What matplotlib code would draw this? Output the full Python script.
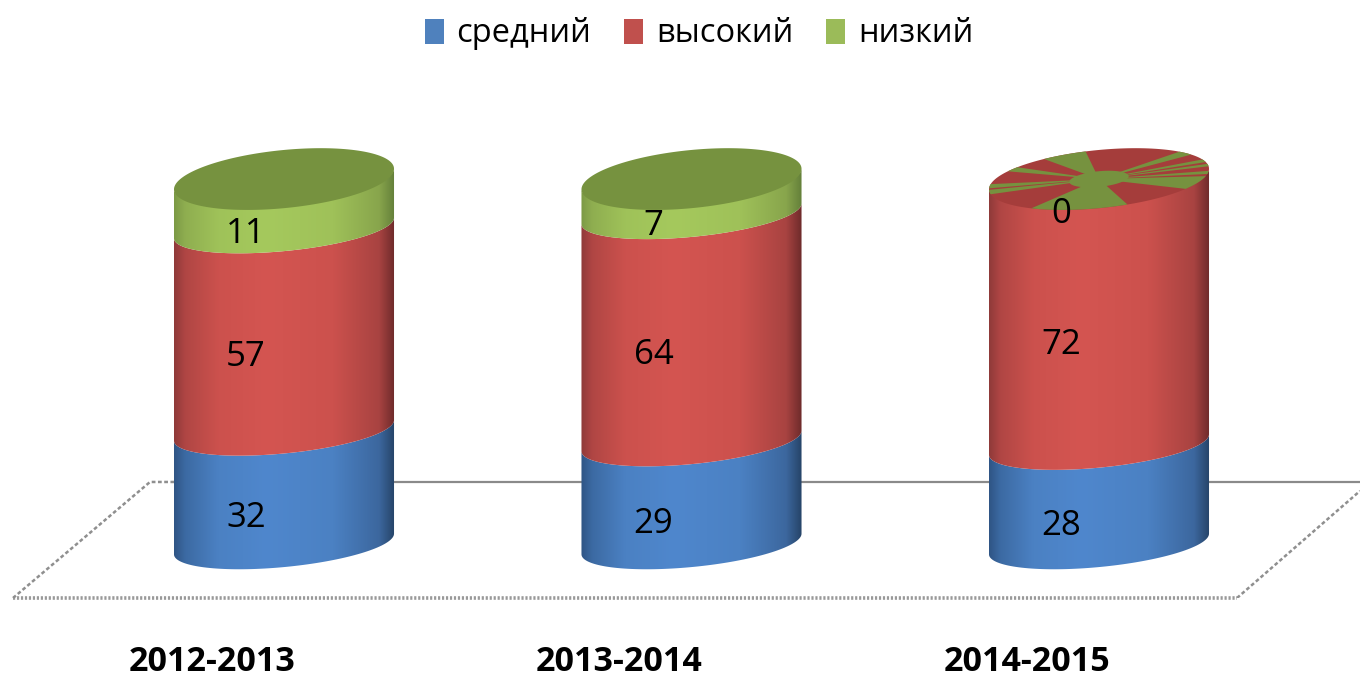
import numpy as np
import matplotlib
matplotlib.use("Agg")
import matplotlib.pyplot as plt
from matplotlib.colors import LinearSegmentedColormap
from matplotlib.patches import Patch, Polygon

plt.rcParams['font.family'] = ['Open Sans', 'DejaVu Sans']

# Data
years = ["2012-2013", "2013-2014", "2014-2015"]
series_names = ["средний", "высокий", "низкий"]
medium = [32, 29, 28]
high = [57, 64, 72]
low = [11, 7, 0]

# Look of the cylinders (sizes in data units)
half_width = 0.27
side_depth = 6.5
top_depth = 8.2
tilt = 2.9
top_lift = 2.8
label_drop = [22.5, 20, 18]  # points below the middle of a segment
legend_colors = ["#4f81bd", "#c0504d", "#9bbb59"]
stops = [0, 0.05, 0.2, 0.42, 0.72, 0.93, 1]
side_cols = [
    ["#2f5585", "#3c6aa3", "#4b81c3", "#4f87cd", "#4b81c3", "#3c679e", "#264468"],
    ["#8f3a39", "#b04644", "#cc514d", "#d45551", "#cc514d", "#a84341", "#6e2b2b"],
    ["#7c9a45", "#8fae50", "#9fc259", "#a5c95d", "#9fc159", "#88a54c", "#64803a"],
]
side_cmaps = [LinearSegmentedColormap.from_list("side", list(zip(stops, c))) for c in side_cols]
top_green = "#76923f"
top_red = "#a53d3b"
# green wedges seen on the flat top of the last cylinder (degrees around the ellipse)
top_green_wedges = [(232, 285), (322, 346), (350, 356), (5, 10), (14, 20), (33, 43),
                    (97, 120), (138, 146), (170, 178), (181, 190)]


def ellipse_xy(c, v, depth, deg, scale=1.0):
    t = np.radians(deg)
    return (c + scale * half_width * np.cos(t),
            v + scale * (depth * np.sin(t) + tilt * np.cos(t)))


def draw_side(ax, c, v0, v1, cmap):
    deg = np.linspace(180, 360, 80)
    x0, y0 = ellipse_xy(c, v0, side_depth, deg)
    x1, y1 = ellipse_xy(c, v1, side_depth, deg[::-1])
    poly = Polygon(np.column_stack([np.r_[x0, x1], np.r_[y0, y1]]),
                   closed=True, fc="none", ec="none", zorder=3)
    ax.add_patch(poly)
    shade = np.linspace(0, 1, 256).reshape(1, -1)
    im = ax.imshow(shade, cmap=cmap, aspect="auto", zorder=3,
                   extent=(c - half_width, c + half_width, v0 - 15, v1 + 15))
    im.set_clip_path(poly)


def draw_top(ax, c, v, color):
    deg = np.linspace(0, 360, 160)
    x, y = ellipse_xy(c, v, top_depth, deg)
    ax.fill(x, y, color=color, lw=0, zorder=4)


fig = plt.figure(figsize=(13.6, 6.8), dpi=100, facecolor="white")
ax = fig.add_axes([0, 82 / 680, 1, 498 / 680])

# Floor of the chart
ax.plot([13 / 1360, 1237 / 1360], [0, 0], transform=ax.transAxes, color="#999999",
        lw=2.6, ls=(0, (0.6, 0.5)), clip_on=False, zorder=1)
ax.plot([13 / 1360, 150 / 1360, 176 / 1360], [0, 0.233, 0.233], transform=ax.transAxes,
        color="#8f8f8f", lw=1.8, ls=(0, (1.5, 1)), zorder=1)
ax.plot([1237 / 1360, 1360 / 1360], [0, 0.215], transform=ax.transAxes,
        color="#8f8f8f", lw=1.8, ls=(0, (1.5, 1)), zorder=1)
ax.plot([176 / 1360, 1], [0.233, 0.233], transform=ax.transAxes,
        color="#8a8a8a", lw=1.6, zorder=1)

# Cylinders
stack = np.array([medium, high, low], dtype=float)
for i in range(len(years)):
    vals = stack[:, i]
    bottoms = np.r_[0, np.cumsum(vals)[:-1]]
    tops = bottoms + vals
    last = np.nonzero(vals)[0][-1]
    tops[last] += top_lift
    for k in range(len(vals)):
        if vals[k] > 0:
            draw_side(ax, i, bottoms[k], tops[k], side_cmaps[k])
        ax.annotate(f"{vals[k]:.0f}", (i - 0.093, bottoms[k] + vals[k] / 2),
                    xytext=(0, -label_drop[k]), textcoords="offset points", ha="center",
                    va="center", fontsize=25, color="black", zorder=6)
    if vals[-1] > 0:
        draw_top(ax, i, tops[last], top_green)
    else:
        draw_top(ax, i, tops[last], top_red)
        for a, b in top_green_wedges:
            x, y = ellipse_xy(i, tops[last], top_depth, np.linspace(a, b, 20))
            ax.fill(np.r_[i, x], np.r_[tops[last], y], color=top_green, lw=0, zorder=5)
        x, y = ellipse_xy(i, tops[last], top_depth, np.linspace(0, 360, 60), scale=0.27)
        ax.fill(x, y, color=top_green, lw=0, zorder=5)

ax.set_xlim(-284 / 407.5, 1076 / 407.5)
ax.set_ylim(-54 / 3.55, 444 / 3.55)
ax.set_xticks([i - 0.177 for i in range(len(years))])
ax.set_xticklabels(years, fontsize=24.5, fontweight="bold", color="black")
ax.tick_params(axis="x", length=0, pad=34)
ax.set_yticks([])
for s in ax.spines.values():
    s.set_visible(False)
ax.patch.set_visible(False)

handles = [Patch(color=c, lw=0) for c in legend_colors]
fig.legend(handles, series_names, loc="center", bbox_to_anchor=(0.514, 0.95),
           ncol=3, frameon=False, fontsize=23.5, handlelength=0.58, handleheight=0.8,
           handletextpad=0.4, columnspacing=1.0)

fig.savefig("out.png", dpi=100, facecolor="white")
